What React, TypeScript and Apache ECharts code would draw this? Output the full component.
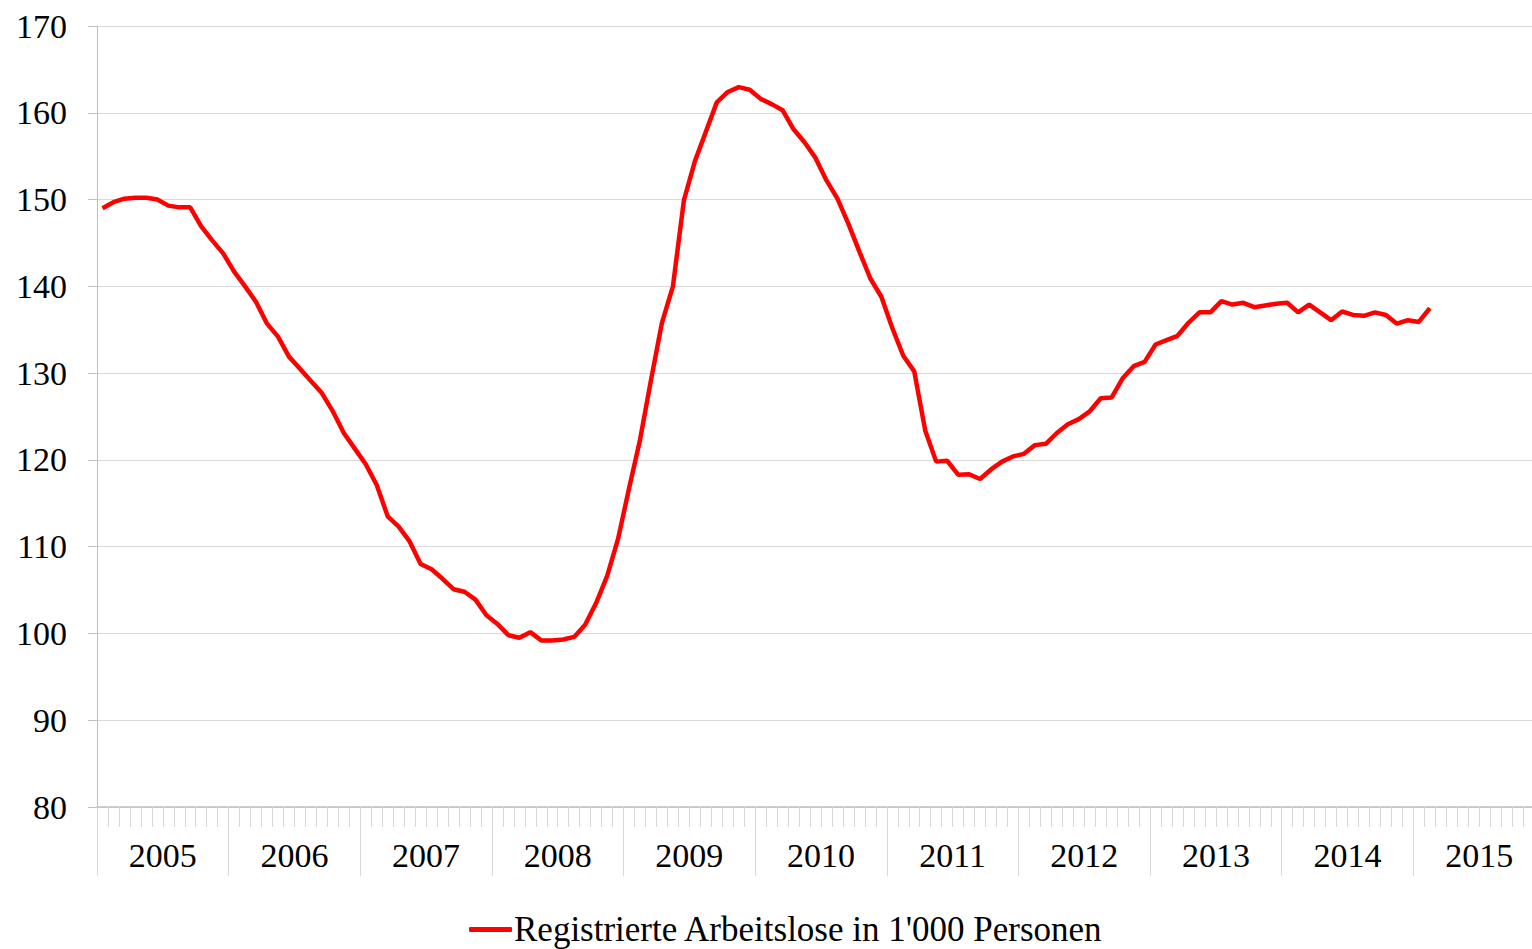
import React, { useEffect, useRef } from "react";
import * as echarts from "echarts";

const startYear = 2005;
const monthCount = 132; // Jan 2005 .. Dec 2015 (axis extent, cut at the right edge)
const seriesName = "Registrierte Arbeitslose in 1'000 Personen";

// monthly values from Jan 2005 to Feb 2015 (in 1'000 persons)
const values: number[] = [
  149.0, 149.7, 150.1, 150.2, 150.2, 150.0, 149.3, 149.1, 149.1, 146.9, 145.3, 143.8,
  141.7, 140.0, 138.2, 135.7, 134.2, 131.9, 130.5, 129.1, 127.7, 125.6, 123.1, 121.3,
  119.5, 117.1, 113.5, 112.3, 110.6, 108.0, 107.4, 106.3, 105.1, 104.8, 103.9, 102.1,
  101.1, 99.8, 99.5, 100.15, 99.2, 99.2, 99.3, 99.6, 101.0, 103.5, 106.6, 110.9,
  116.7, 122.3, 129.2, 135.8, 140.0, 149.9, 154.4, 157.8, 161.2, 162.4, 162.95, 162.65,
  161.6, 161.0, 160.3, 158.1, 156.6, 154.8, 152.2, 150.1, 147.2, 144.0, 140.9, 138.8,
  135.2, 132.0, 130.2, 123.4, 119.8, 119.9, 118.3, 118.35, 117.8, 118.9, 119.8, 120.4,
  120.7, 121.7, 121.85, 123.1, 124.1, 124.7, 125.6, 127.1, 127.2, 129.4, 130.8, 131.3,
  133.3, 133.8, 134.3, 135.8, 137.0, 137.0, 138.3, 137.9, 138.1, 137.6, 137.8, 138.0,
  138.1, 137.0, 137.9, 137.0, 136.1, 137.1, 136.7, 136.6, 137.0, 136.7, 135.7, 136.1,
  135.9, 137.5,
];

const months: string[] = [];
for (let i = 0; i < monthCount; i++) {
  const y = startYear + Math.floor(i / 12);
  const m = (i % 12) + 1;
  months.push(`${y}-${m < 10 ? "0" + m : m}`);
}

const FONT = "'Liberation Serif', 'Times New Roman', serif";
const GRID_COLOR = "#d9d9d9";
const AXIS_COLOR = "#bfbfbf";

export default function App() {
  const ref = useRef<HTMLDivElement>(null);
  useEffect(() => {
    if (!ref.current) return;
    const chart = echarts.init(ref.current, undefined, { renderer: "svg" });
    chart.setOption({
      animation: false,
      backgroundColor: "#ffffff",
      grid: {
        left: 97,
        width: 1448,
        top: 26,
        height: 781,
        containLabel: false,
        outerBoundsMode: "none",
      },
      legend: {
        data: [{ name: seriesName, icon: "roundRect" }],
        left: 464,
        top: 907,
        itemWidth: 43,
        itemHeight: 5,
        itemGap: 10,
        textStyle: { fontFamily: FONT, fontSize: 35, color: "#000", padding: [0, 0, 0, -3] },
      },
      xAxis: [
        {
          type: "category",
          data: months,
          boundaryGap: true,
          position: "bottom",
          axisLine: { show: true, lineStyle: { color: AXIS_COLOR, width: 1.5 } },
          axisTick: { show: true, interval: 0, length: 20, lineStyle: { color: GRID_COLOR, width: 1 } },
          axisLabel: { show: false },
          splitLine: { show: false },
        },
        {
          type: "category",
          data: months,
          boundaryGap: true,
          position: "bottom",
          axisLine: { show: false },
          axisTick: {
            show: true,
            interval: (i: number) => i % 12 === 0,
            length: 69,
            lineStyle: { color: GRID_COLOR, width: 1 },
          },
          axisLabel: { show: false },
          splitLine: { show: false },
        },
        {
          type: "value",
          min: 0,
          max: monthCount,
          interval: 6,
          position: "bottom",
          axisLine: { show: false },
          axisTick: { show: false },
          splitLine: { show: false },
          axisLabel: {
            show: true,
            margin: 31,
            fontFamily: FONT,
            fontSize: 34,
            color: "#000",
            showMinLabel: false,
            showMaxLabel: false,
            formatter: (v: number) => (Math.round(v) % 12 === 6 ? String(startYear + Math.floor(v / 12)) : ""),
          },
        },
      ],
      yAxis: {
        type: "value",
        min: 80,
        max: 170,
        interval: 10,
        axisLine: { show: true, lineStyle: { color: AXIS_COLOR, width: 1 } },
        axisTick: { show: true, length: 9, lineStyle: { color: AXIS_COLOR } },
        splitLine: { show: true, lineStyle: { color: GRID_COLOR, width: 1 } },
        axisLabel: { margin: 30, fontFamily: FONT, fontSize: 34, color: "#000" },
      },
      series: [
        {
          name: seriesName,
          type: "line",
          xAxisIndex: 0,
          data: values,
          symbol: "none",
          lineStyle: { color: "#ff0000", width: 4.5 },
          itemStyle: { color: "#ff0000" },
        },
      ],
    });
    return () => chart.dispose();
  }, []);
  return (
    <div
      ref={ref}
      style={{ position: "absolute", left: 0, top: 0, width: 1532, height: 949 }}
    />
  );
}
